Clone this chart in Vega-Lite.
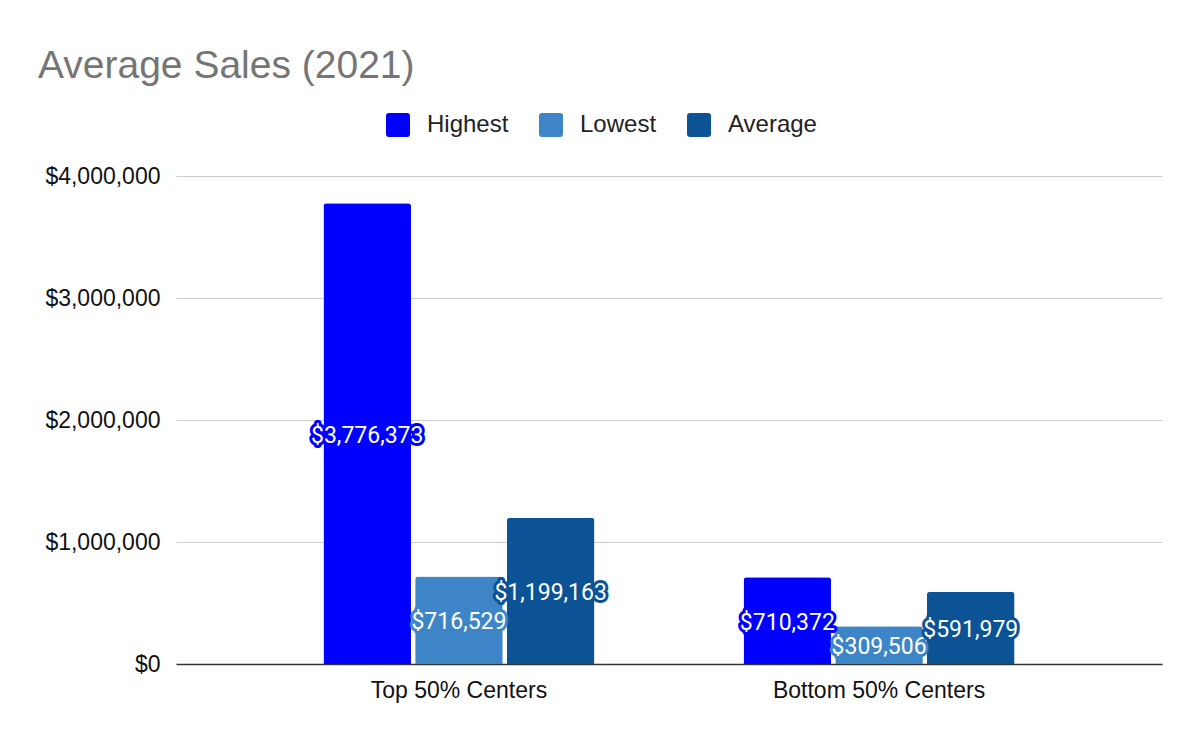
{
  "$schema": "https://vega.github.io/schema/vega-lite/v6.json",
  "width": 986,
  "height": 488,
  "autosize": {"type": "none"},
  "padding": {"left": 176, "top": 176, "right": 38, "bottom": 78},
  "background": "white",
  "title": {
    "text": "Average Sales (2021)",
    "anchor": "start",
    "frame": "group",
    "dx": -138,
    "offset": 27,
    "font": "Liberation Sans",
    "fontSize": 39,
    "fontWeight": "normal",
    "color": "#757575"
  },
  "config": {
    "view": {"stroke": null},
    "axis": {"labelFont": "Liberation Sans", "labelFontSize": 23, "labelColor": "#222222", "title": null}
  },
  "data": {
    "values": [
      {"group": "Top 50% Centers", "series": "Highest", "value": 3776373},
      {"group": "Top 50% Centers", "series": "Lowest", "value": 716529},
      {"group": "Top 50% Centers", "series": "Average", "value": 1199163},
      {"group": "Bottom 50% Centers", "series": "Highest", "value": 710372},
      {"group": "Bottom 50% Centers", "series": "Lowest", "value": 309506},
      {"group": "Bottom 50% Centers", "series": "Average", "value": 591979}
    ]
  },
  "encoding": {
    "x": {
      "field": "group",
      "type": "nominal",
      "sort": ["Top 50% Centers", "Bottom 50% Centers"],
      "scale": {"paddingInner": 0.355, "paddingOuter": 0.351},
      "axis": {"labelAngle": 0, "ticks": false, "domainColor": "#333333", "domainWidth": 1.5, "labelPadding": 15, "labelColor": "#111111", "labelLimit": 400}
    },
    "xOffset": {
      "field": "series",
      "type": "nominal",
      "sort": ["Highest", "Lowest", "Average"],
      "scale": {"paddingInner": 0.045, "paddingOuter": 0}
    }
  },
  "layer": [
    {
      "mark": {"type": "bar", "cornerRadiusTopLeft": 3, "cornerRadiusTopRight": 3},
      "encoding": {
        "y": {
          "field": "value",
          "type": "quantitative",
          "scale": {"domain": [0, 4000000], "nice": false},
          "axis": {"values": [0, 1000000, 2000000, 3000000, 4000000], "format": "$,.0f", "ticks": false, "domain": false, "gridColor": "#cccccc", "gridWidth": 1, "labelPadding": 16, "labelColor": "#111111"}
        },
        "color": {
          "field": "series",
          "type": "nominal",
          "sort": ["Highest", "Lowest", "Average"],
          "scale": {"domain": ["Highest", "Lowest", "Average"], "range": ["#0000ff", "#3d85c6", "#0b5394"]},
          "legend": {
            "title": null,
            "orient": "none",
            "direction": "horizontal",
            "legendX": 210,
            "legendY": -63,
            "padding": 0,
            "symbolType": "M-1,-0.75Q-1,-1,-0.75,-1L0.75,-1Q1,-1,1,-0.75L1,0.75Q1,1,0.75,1L-0.75,1Q-1,1,-1,0.75Z",
            "symbolSize": 576,
            "symbolStrokeWidth": 0,
            "symbolOpacity": 1,
            "labelFont": "Liberation Sans",
            "labelFontSize": 24,
            "labelColor": "#222222",
            "labelOffset": 17,
            "columnPadding": 30
          }
        }
      }
    },
    {
      "mark": {"type": "text", "font": "Roboto", "fontSize": 23, "baseline": "middle", "align": "center", "strokeWidth": 6, "strokeJoin": "round", "dy": 2},
      "encoding": {
        "y": {"field": "value", "type": "quantitative", "scale": {"domain": [0, 8000000], "nice": false}, "axis": null},
        "text": {"field": "value", "type": "quantitative", "format": "$,.0f"},
        "stroke": {
          "field": "series",
          "type": "nominal",
          "scale": {"domain": ["Highest", "Lowest", "Average"], "range": ["#0000ff", "#3d85c6", "#0b5394"]},
          "legend": null
        },
        "color": {"value": "#0000ff"}
      }
    },
    {
      "mark": {"type": "text", "font": "Roboto", "fontSize": 23, "baseline": "middle", "align": "center", "fill": "white", "dy": 2},
      "encoding": {
        "y": {"field": "value", "type": "quantitative", "scale": {"domain": [0, 8000000], "nice": false}, "axis": null},
        "text": {"field": "value", "type": "quantitative", "format": "$,.0f"}
      }
    }
  ],
  "resolve": {"scale": {"y": "independent"}}
}
